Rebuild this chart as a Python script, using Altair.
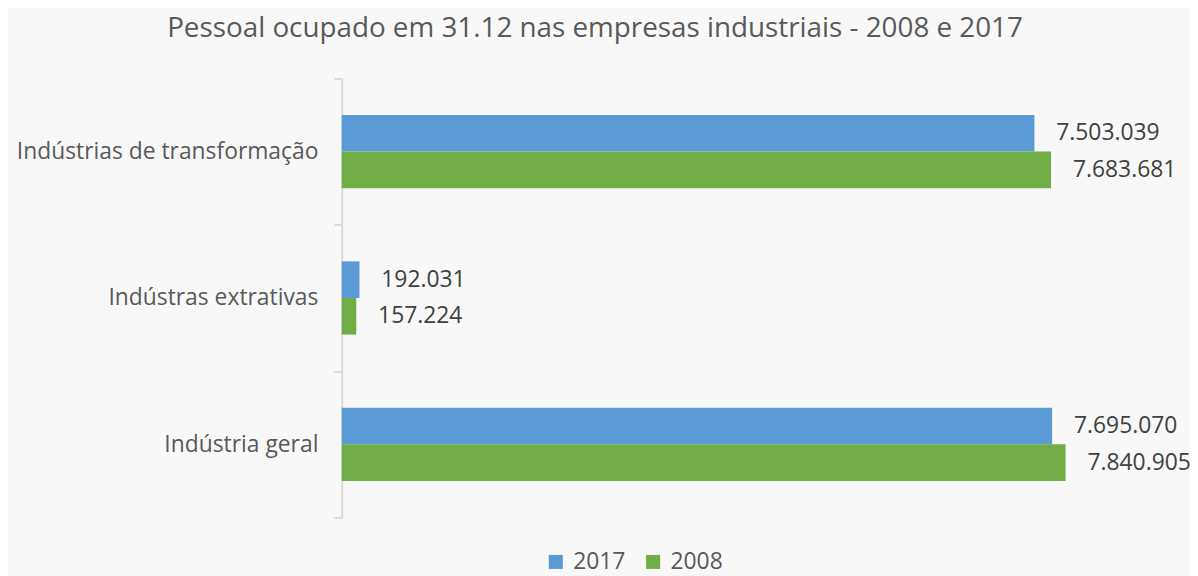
import altair as alt
import pandas as pd

categories = ["Indústrias de transformação", "Indústras extrativas", "Indústria geral"]
series = ["2017", "2008"]
values_2017 = [7503039, 192031, 7695070]
values_2008 = [7683681, 157224, 7840905]

rows = []
for c, v17, v08 in zip(categories, values_2017, values_2008):
    rows.append({"cat": c, "ano": "2017", "v": v17, "lbl": f"{v17:,}".replace(",", ".")})
    rows.append({"cat": c, "ano": "2008", "v": v08, "lbl": f"{v08:,}".replace(",", ".")})
df = pd.DataFrame(rows)

FONT = "Open Sans"
y_enc = alt.Y("cat:N", sort=categories, title=None,
              scale=alt.Scale(paddingInner=0, paddingOuter=0),
              axis=alt.Axis(labelFont=FONT, labelFontSize=23, labelColor="#595959",
                            labelPadding=16, labelLimit=400, domainColor="#d9d9d9", domainWidth=2,
                            tickColor="#d9d9d9", tickWidth=2, tickSize=8,
                            tickBand="extent"))
x_enc = alt.X("v:Q", scale=alt.Scale(domain=[0, 9124000]), axis=None)
yoff = alt.YOffset("ano:N", sort=series, scale=alt.Scale(paddingInner=0, paddingOuter=1))

base = alt.Chart(df)
bars = base.mark_bar().encode(
    y=y_enc, x=x_enc, yOffset=yoff,
    color=alt.Color("ano:N", sort=series,
                    scale=alt.Scale(domain=series, range=["#5b9bd5", "#70ad47"]),
                    legend=alt.Legend(title=None, orient="none", direction="horizontal",
                                      legendX=204, legendY=475, symbolType="square",
                                      symbolSize=200, symbolStrokeWidth=0,
                                      labelFont=FONT, labelFontSize=23,
                                      labelColor="#595959", columnPadding=16,
                                      symbolOffset=0, labelOffset=6)),
)
text = base.mark_text(align="left", dx=22, font=FONT, fontSize=23, color="#404040").encode(
    y=y_enc, x=x_enc, yOffset=yoff, text="lbl:N"
)

chart = alt.layer(bars, text).properties(
    width=848, height=442,
    padding={"left": 336, "top": 69, "right": 6, "bottom": 57},
    autosize=alt.AutoSizeParams(type="none"),
    background="#f8f8f8",
    title=alt.TitleParams("Pessoal ocupado em 31.12 nas empresas industriais  - 2008 e 2017",
                          font=FONT, fontSize=28, fontWeight="normal", color="#595959",
                          offset=25, dx=-169, anchor="middle"),
).configure_view(stroke=None)

chart.save("out.html", embed_options={"renderer": "svg", "actions": False})
